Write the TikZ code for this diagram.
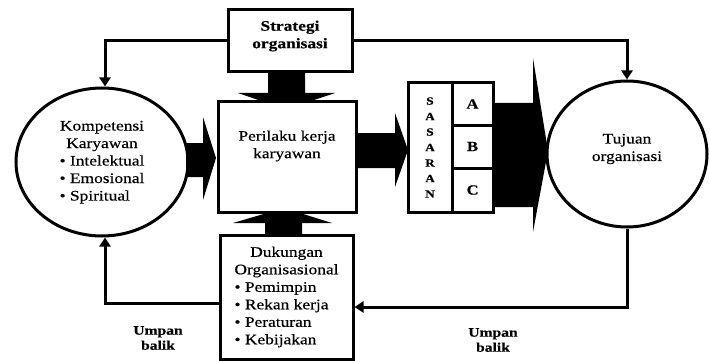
\documentclass[tikz,border=0pt]{standalone}
\usepackage{fontspec}
\setmainfont{Liberation Serif}[FakeStretch=1.2, FakeBold=0.4]
\usetikzlibrary{shapes.geometric, arrows.meta}

\begin{document}
\begin{tikzpicture}[x=1pt, y=-1pt,
    kotak/.style={draw, line width=3pt, inner sep=0pt},
    bulat/.style={draw, ellipse, line width=3pt, inner sep=0pt},
    teks/.style={font=\fontsize{14.5}{17.5}\selectfont, align=center},
    garis/.style={line width=3pt, -{Triangle[length=9pt, width=11pt]}},
    umpan/.style={font=\bfseries\fontsize{13}{15}\selectfont, align=center}]
    \useasboundingbox (0,0) rectangle (710,361);

    % kotak dan lingkaran
    \node[kotak, minimum width=124pt, minimum height=62pt] (strat) at (290,41) {};
    \node[teks, font=\bfseries\fontsize{14.5}{17.5}\selectfont] (stratteks) at (290,36) {Strategi\\organisasi};
    \node[kotak, minimum width=138pt, minimum height=110pt] (peril) at (287,157) {};
    \node[teks] (perilteks) at (287,146) {Perilaku kerja\\karyawan};
    \node[kotak, minimum width=133pt, minimum height=124pt, teks] (duk) at (286.5,297)
        {\begin{tabular}{@{}l@{}}
         \multicolumn{1}{@{}c@{}}{Dukungan}\\
         Organisasional\\
         \textbullet\ Pemimpin\\
         \textbullet\ Rekan kerja\\
         \textbullet\ Peraturan\\
         \textbullet\ Kebijakan
         \end{tabular}};
    \node[bulat, minimum width=172pt, minimum height=148pt, teks] (komp) at (102,162)
        {\begin{tabular}{@{}l@{}}
         \multicolumn{1}{@{}c@{}}{Kompetensi}\\
         \multicolumn{1}{@{}c@{}}{Karyawan}\\
         \textbullet\ Intelektual\\
         \textbullet\ Emosional\\
         \textbullet\ Spiritual
         \end{tabular}};
    \node[bulat, minimum width=160pt, minimum height=146pt] (tuj) at (627,154) {};
    \node[teks] (tujteks) at (627,149) {Tujuan\\organisasi};

    % sasaran
    \node[kotak, minimum width=44pt, minimum height=129pt,
          font=\bfseries\fontsize{11}{15.5}\selectfont, align=center] (sas) at (430,147.5)
        {S\\A\\S\\A\\R\\A\\N};
    \node[kotak, minimum width=41pt, minimum height=42pt, font=\bfseries\fontsize{14}{16}\selectfont] (sasA) at (472.5,104) {A};
    \node[kotak, minimum width=41pt, minimum height=43pt, font=\bfseries\fontsize{14}{16}\selectfont] (sasB) at (472.5,146.5) {B};
    \node[kotak, minimum width=41pt, minimum height=44pt, font=\bfseries\fontsize{14}{16}\selectfont] (sasC) at (472.5,190) {C};

    % panah tebal
    \fill (186,143) -- (203,143) -- (203,117) -- (216,158) -- (203,200) -- (203,177) -- (186,177) -- cycle;
    \fill (356,133) -- (395,133) -- (395,113) -- (408,150) -- (395,187) -- (395,168) -- (356,168) -- cycle;
    \fill (494,103) -- (533,103) -- (533,58) -- (548,151) -- (533,232) -- (533,207) -- (494,207) -- cycle;
    \fill (268,72) -- (305,72) -- (305,93) -- (335,93) -- (308,102) -- (264,102) -- (238,93) -- (268,93) -- cycle;
    \fill (265,235) -- (302,235) -- (302,223) -- (332,223) -- (300,213) -- (267,213) -- (233,223) -- (265,223) -- cycle;

    % garis umpan
    \draw[garis] (strat.west) -| ([xshift=3pt]komp.north);
    \draw[garis] (strat.east) -| (tuj.north);
    \draw[garis] (tuj.south) |- ([yshift=-10pt]duk.east);
    \draw[garis] ([yshift=-6pt]duk.west) -| ([xshift=3pt]komp.south);

    \node[umpan] (umpankiri) at (158,338) {Umpan\\balik};
    \node[umpan] (umpankanan) at (493,340) {Umpan\\balik};
\end{tikzpicture}
\end{document}
